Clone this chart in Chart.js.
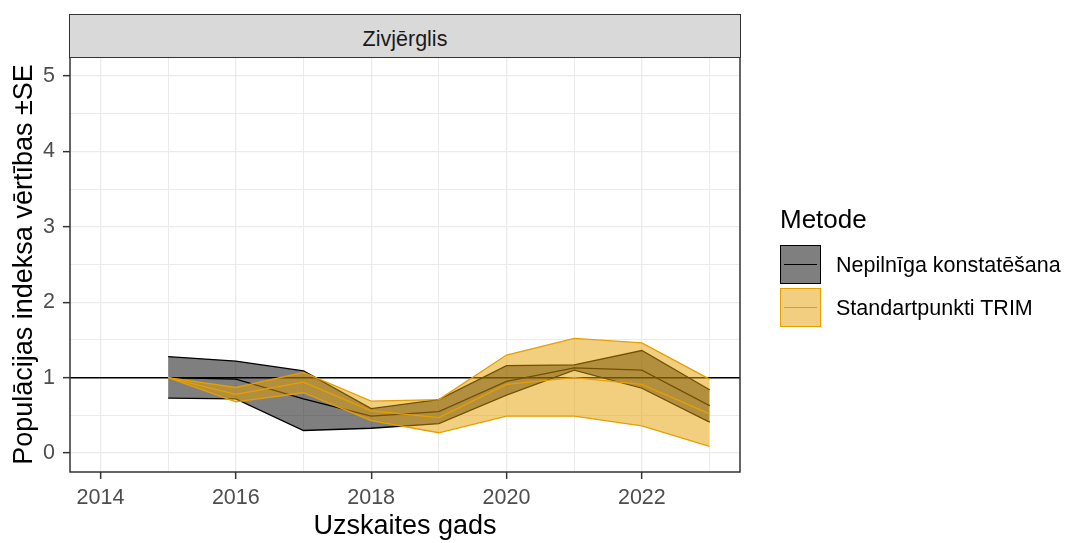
<!DOCTYPE html>
<html>
<head>
<meta charset="utf-8">
<script src="https://cdn.jsdelivr.net/npm/chart.js@4"></script>
<style>
  body { margin: 0; background: #fff; }
  #wrap { position: relative; width: 1082px; height: 543px; font-family: "Liberation Sans", Arial, sans-serif; }
  #strip { position: absolute; left: 69px; top: 13.5px; width: 670px; height: 42.5px; background: #d9d9d9; border: 1.5px solid #333; box-sizing: content-box; }
  #strip span { position: absolute; left: 0; right: 0; top: 14px; text-align: center; font-size: 21.5px; line-height: 1; color: #1a1a1a; }
  .t { position: absolute; line-height: 1; white-space: nowrap; color: #000; }
  .key { position: absolute; left: 780px; width: 39px; height: 37px; }
  .key i { position: absolute; left: 3px; right: 3px; top: 17.5px; height: 1.5px; }
</style>
</head>
<body>
<div id="wrap">
  <canvas id="myChart" width="1082" height="543"></canvas>
  <div id="strip"><span>Zivjērglis</span></div>
  <div class="t" style="left:780px; top:206px; font-size:26px;">Metode</div>
  <div class="key" style="top:245px; background:#7f7f7f; border:1.5px solid #000;"><i style="background:#000"></i></div>
  <div class="t" style="left:836px; top:254.5px; font-size:21.5px;">Nepilnīga konstatēšana</div>
  <div class="key" style="top:288px; background:#f2cf80; border:1.5px solid #e69f00;"><i style="background:#e69f00"></i></div>
  <div class="t" style="left:836px; top:298px; font-size:21.5px;">Standartpunkti TRIM</div>
</div>
<script>
// indeksa vērtības pa gadiem (nolasītas no attēla)
const years = [2015, 2016, 2017, 2018, 2019, 2020, 2021, 2022, 2023];

const nepilnigaIndex = [1.00, 0.98, 0.72, 0.49, 0.55, 0.95, 1.13, 1.10, 0.63];
const nepilnigaLower = [0.73, 0.72, 0.30, 0.33, 0.39, 0.77, 1.10, 0.86, 0.41];
const nepilnigaUpper = [1.28, 1.22, 1.09, 0.59, 0.71, 1.16, 1.17, 1.36, 0.84];

const trimIndex = [1.00, 0.78, 0.94, 0.56, 0.47, 0.91, 1.00, 0.91, 0.52];
const trimLower = [1.00, 0.68, 0.80, 0.43, 0.27, 0.49, 0.49, 0.36, 0.09];
const trimUpper = [1.00, 0.87, 1.07, 0.69, 0.71, 1.30, 1.52, 1.46, 0.98];

const xTicks = [2014, 2015, 2016, 2017, 2018, 2019, 2020, 2021, 2022, 2023];
const yTicks = [0, 0.5, 1, 1.5, 2, 2.5, 3, 3.5, 4, 4.5, 5];
const refLine = 1;

const pts = (arr) => years.map((y, i) => ({x: y, y: arr[i]}));

const FONT = '"Liberation Sans", Arial, sans-serif';
const BLACK = '#000000';
const ORANGE = '#e69f00';

const line = (label, arr, color, order, fill, bg) => ({
    label: label,
    data: pts(arr),
    borderColor: color,
    borderWidth: 1.3,
    backgroundColor: bg || 'transparent',
    fill: fill || false,
    pointRadius: 0,
    tension: 0,
    order: order
});

const refLinePlugin = {
    id: 'refLine',
    beforeDatasetsDraw(chart) {
        const {ctx, chartArea: a, scales: {y}} = chart;
        const py = y.getPixelForValue(refLine);
        ctx.save();
        ctx.strokeStyle = '#000';
        ctx.lineWidth = 1.4;
        ctx.beginPath();
        ctx.moveTo(a.left, py);
        ctx.lineTo(a.right, py);
        ctx.stroke();
        ctx.restore();
    }
};

const borderPlugin = {
    id: 'panelBorder',
    afterDraw(chart) {
        const {ctx, chartArea: a} = chart;
        ctx.save();
        ctx.strokeStyle = '#333333';
        ctx.lineWidth = 1.5;
        ctx.strokeRect(a.left, a.top, a.right - a.left, a.bottom - a.top);
        ctx.restore();
    }
};

const config = {
    type: 'line',
    data: {
        datasets: [
            line('Nepilnīga upper', nepilnigaUpper, BLACK, 4, '+1', 'rgba(0,0,0,0.5)'),
            line('Nepilnīga lower', nepilnigaLower, BLACK, 4),
            line('Nepilnīga konstatēšana', nepilnigaIndex, BLACK, 3),
            line('TRIM upper', trimUpper, ORANGE, 2, '+1', 'rgba(230,159,0,0.5)'),
            line('TRIM lower', trimLower, ORANGE, 2),
            line('Standartpunkti TRIM', trimIndex, ORANGE, 1)
        ]
    },
    options: {
        responsive: false,
        animation: false,
        events: [],
        layout: {padding: {top: 57, right: 342, left: 0, bottom: 0}},
        plugins: {legend: {display: false}, tooltip: {enabled: false}},
        scales: {
            x: {
                type: 'linear',
                min: 2013.55,
                max: 2023.45,
                afterBuildTicks: (s) => { s.ticks = xTicks.map(v => ({value: v})); },
                afterFit: (s) => { s.height = 71; },
                border: {display: false},
                grid: {
                    color: '#ebebeb',
                    lineWidth: (c) => (c.tick && c.tick.value % 2 === 0 ? 1.3 : 1.0),
                    tickColor: (c) => (c.tick && c.tick.value % 2 === 0 ? '#333333' : 'rgba(0,0,0,0)'),
                    tickLength: 7,
                    tickWidth: 1.5
                },
                ticks: {
                    autoSkip: false,
                    maxRotation: 0,
                    padding: 6,
                    color: '#4d4d4d',
                    font: {family: FONT, size: 21.5},
                    callback: (v) => (v % 2 === 0 ? String(v) : '')
                },
                title: {
                    display: true,
                    text: 'Uzskaites gads',
                    color: '#000',
                    font: {family: FONT, size: 27},
                    padding: {top: 0, bottom: 0}
                }
            },
            y: {
                type: 'linear',
                min: -0.25,
                max: 5.25,
                afterBuildTicks: (s) => { s.ticks = yTicks.map(v => ({value: v})); },
                afterFit: (s) => { s.width = 70; },
                border: {display: false},
                grid: {
                    color: '#ebebeb',
                    lineWidth: (c) => (c.tick && Number.isInteger(c.tick.value) ? 1.3 : 1.0),
                    tickColor: (c) => (c.tick && Number.isInteger(c.tick.value) ? '#333333' : 'rgba(0,0,0,0)'),
                    tickLength: 7,
                    tickWidth: 1.5
                },
                ticks: {
                    autoSkip: false,
                    padding: 8,
                    color: '#4d4d4d',
                    font: {family: FONT, size: 21.5},
                    callback: (v) => (Number.isInteger(v) ? String(v) : '')
                },
                title: {
                    display: true,
                    text: 'Populācijas indeksa vērtības ±SE',
                    color: '#000',
                    font: {family: FONT, size: 27},
                    padding: {top: 8, bottom: 0}
                }
            }
        }
    },
    plugins: [refLinePlugin, borderPlugin]
};

const myChart = new Chart(document.getElementById('myChart'), config);
</script>
</body>
</html>
